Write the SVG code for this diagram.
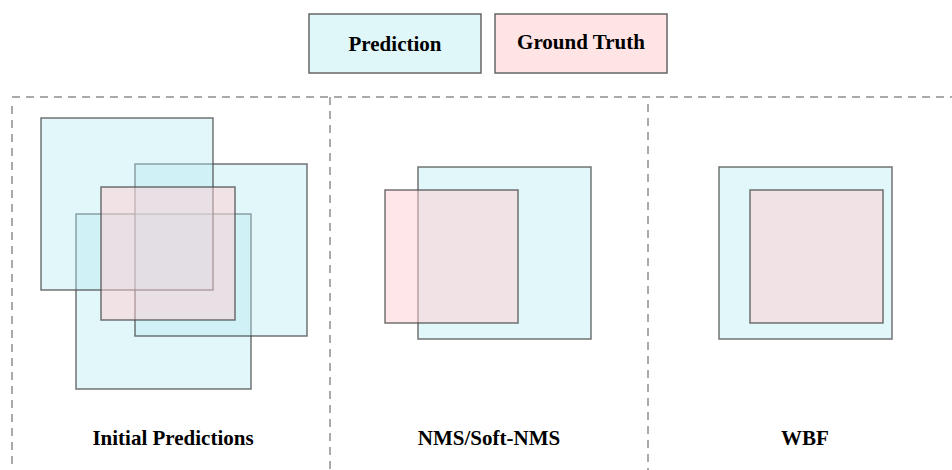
<svg xmlns="http://www.w3.org/2000/svg" width="952" height="470" viewBox="0 0 952 470">
<defs>
<style>
.pred{fill:rgb(178,235,242);fill-opacity:0.38;stroke:#444;stroke-opacity:0.75;stroke-width:1.5}
.gt{fill:rgb(255,205,210);fill-opacity:0.5;stroke:#444;stroke-opacity:0.75;stroke-width:1.5}
.legp{fill:#e0f7fa;stroke:#666;stroke-width:1.5}
.legg{fill:#ffe4e6;stroke:#666;stroke-width:1.5}
.lbl{font-family:"Liberation Serif","Times New Roman",serif;font-weight:bold;font-size:21px;fill:#000;text-anchor:middle}
.dash{stroke:#555;stroke-width:1;stroke-dasharray:8 6;fill:none}
</style>
</defs>
<rect width="952" height="470" fill="#fff"/>
<g id="legend-prediction">
<rect class="legp" x="309" y="14" width="172" height="59"/>
<text class="lbl" x="395" y="51">Prediction</text>
</g>
<g id="legend-ground-truth">
<rect class="legg" x="495" y="14" width="172" height="59"/>
<text class="lbl" x="581" y="49">Ground Truth</text>
</g>
<g id="dividers">
<line class="dash" x1="12" y1="97" x2="952" y2="97"/>
<line class="dash" x1="12" y1="106" x2="12" y2="470"/>
<line class="dash" x1="330" y1="97" x2="330" y2="470"/>
<line class="dash" x1="648" y1="104" x2="648" y2="470"/>
</g>
<g id="panel-initial">
<rect class="pred" x="76" y="214" width="175" height="175"/>
<rect class="pred" x="135" y="164" width="172" height="172"/>
<rect class="pred" x="41" y="118" width="172" height="172"/>
<rect class="gt" x="101" y="187" width="134" height="133"/>
<text class="lbl" x="173" y="445">Initial Predictions</text>
</g>
<g id="panel-nms">
<rect class="pred" x="418" y="167" width="173" height="172"/>
<rect class="gt" x="385" y="190" width="133" height="133"/>
<text class="lbl" x="489" y="445">NMS/Soft-NMS</text>
</g>
<g id="panel-wbf">
<rect class="pred" x="719" y="167" width="173" height="172"/>
<rect class="gt" x="750" y="190" width="133" height="133"/>
<text class="lbl" x="805" y="445">WBF</text>
</g>
</svg>
